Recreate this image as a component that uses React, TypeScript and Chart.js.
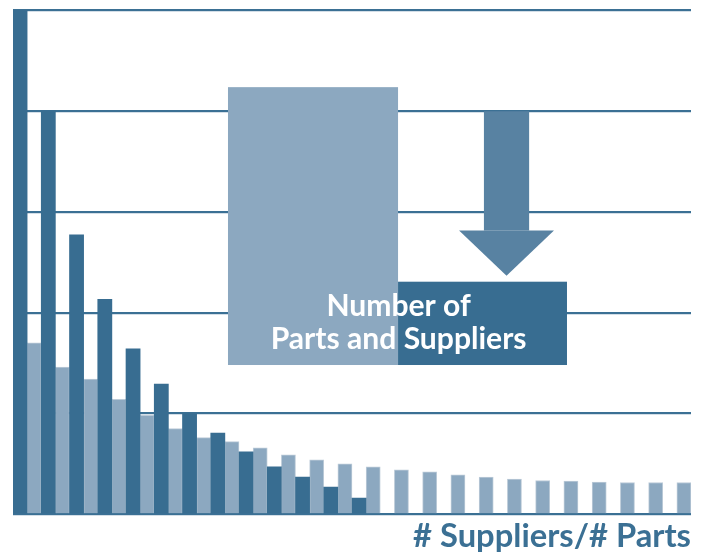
import React, { useEffect, useRef } from 'react';
import { Chart, registerables } from 'chart.js';

Chart.register(...registerables);

// ---- data ----
const categories = ['1', '2', '3', '4', '5', '6', '7', '8', '9', '10', '11', '12', '13', '14', '15', '16', '17', '18', '19', '20', '21', '22', '23', '24'];
const suppliers = [50, 40, 27.7, 21.3, 16.4, 12.9, 10.0, 8.05, 6.2, 4.7, 3.7, 2.7, 1.6, 0, 0, 0, 0, 0, 0, 0, 0, 0, 0, 0];
const parts = [17.0, 14.6, 13.4, 11.4, 9.8, 8.5, 7.6, 7.2, 6.6, 5.9, 5.4, 5.0, 4.7, 4.4, 4.2, 3.9, 3.7, 3.5, 3.35, 3.3, 3.2, 3.15, 3.15, 3.15];
const yTicks = [0, 10, 20, 30, 40, 50];
const xTitle = '# Suppliers/# Parts';
const badgeLines = ['Number of', 'Parts and Suppliers'];

// ---- styles ----
const DARK = '#386d91';
const LIGHT = '#8ca8c0';
const LIGHT_EDGE = '#bccbd8';
const ARROW = '#5882a2';
const GRID = '#3b7094';
const GRID_SHADOW = '#d3dee7';
const FONT = 'Lato, "Open Sans", sans-serif';

// decoration geometry in axis units (x: category index, y: value)
const badgeLight = { x0: 7.11, x1: 13.13, y0: 14.8, y1: 42.35 };
const badgeDark = { x0: 13.13, x1: 19.11, y0: 14.8, y1: 23.06 };
const arrowShaft = { x0: 16.17, x1: 17.77, yTop: 39.96, yBase: 28.13 };
const arrowHead = { x0: 15.29, x1: 18.65, yTip: 23.66 };
const badgeText = { xc: 13.15, yLine1: 19.68, yLine2: 16.4 };

function fitFontSize(text: string, weight: string, width: number): number {
  const c = document.createElement('canvas').getContext('2d')!;
  c.font = `${weight} 100px ${FONT}`;
  return (100 * width) / c.measureText(text).width;
}

const decorPlugin = {
  id: 'decor',
  beforeDatasetsDraw(chart: any) {
    const { ctx, chartArea, scales } = chart;
    ctx.save();
    ctx.strokeStyle = GRID_SHADOW;
    ctx.lineWidth = 1;
    yTicks.forEach((v) => {
      const py = Math.round(scales.y.getPixelForValue(v)) + 1.5;
      ctx.beginPath();
      ctx.moveTo(chartArea.left, py);
      ctx.lineTo(chartArea.right, py);
      ctx.stroke();
    });
    ctx.restore();
  },
  afterDatasetsDraw(chart: any) {
    const { ctx, scales } = chart;
    const X = (u: number) => scales.x.getPixelForValue(u);
    const Y = (v: number) => scales.y.getPixelForValue(v);
    ctx.save();
    // light panel
    ctx.fillStyle = LIGHT;
    ctx.fillRect(X(badgeLight.x0), Y(badgeLight.y1), X(badgeLight.x1) - X(badgeLight.x0), Y(badgeLight.y0) - Y(badgeLight.y1));
    // dark panel
    ctx.fillStyle = DARK;
    ctx.fillRect(X(badgeDark.x0), Y(badgeDark.y1), X(badgeDark.x1) - X(badgeDark.x0), Y(badgeDark.y0) - Y(badgeDark.y1));
    // arrow
    ctx.fillStyle = ARROW;
    ctx.fillRect(X(arrowShaft.x0), Y(arrowShaft.yTop), X(arrowShaft.x1) - X(arrowShaft.x0), Y(arrowShaft.yBase) - Y(arrowShaft.yTop));
    ctx.beginPath();
    ctx.moveTo(X(arrowHead.x0), Y(arrowShaft.yBase));
    ctx.lineTo(X(arrowHead.x1), Y(arrowShaft.yBase));
    ctx.lineTo(X((arrowShaft.x0 + arrowShaft.x1) / 2), Y(arrowHead.yTip));
    ctx.closePath();
    ctx.fill();
    // text
    const size = fitFontSize(badgeLines[1], 'bold', 256);
    ctx.font = `bold ${size}px ${FONT}`;
    ctx.fillStyle = '#ffffff';
    ctx.textAlign = 'center';
    ctx.textBaseline = 'alphabetic';
    ctx.fillText(badgeLines[0], X(badgeText.xc), Y(badgeText.yLine1));
    ctx.fillText(badgeLines[1], X(badgeText.xc), Y(badgeText.yLine2));
    ctx.restore();
  },
};

export default function App() {
  const ref = useRef<HTMLCanvasElement>(null);
  useEffect(() => {
    document.body.style.margin = '0';
    const titleSize = fitFontSize(xTitle, 'bold', 278);
    const chart = new Chart(ref.current!, {
      type: 'bar',
      data: {
        labels: categories,
        datasets: [
          {
            label: 'Suppliers',
            data: suppliers,
            backgroundColor: DARK,
            borderWidth: 0,
            categoryPercentage: 1,
            barPercentage: 1,
          },
          {
            label: 'Parts',
            data: parts,
            backgroundColor: LIGHT,
            borderColor: LIGHT_EDGE,
            borderWidth: { top: 1, left: 1, right: 1, bottom: 0 },
            borderSkipped: 'bottom',
            categoryPercentage: 1,
            barPercentage: 1,
          },
        ],
      },
      options: {
        responsive: false,
        animation: false,
        devicePixelRatio: 1,
        layout: { padding: { top: 10, left: 13, right: 12, bottom: 0 } },
        plugins: { legend: { display: false }, tooltip: { enabled: false } },
        scales: {
          x: {
            grid: { display: false, drawTicks: false },
            border: { display: false },
            ticks: { display: false },
            title: {
              display: true,
              text: xTitle,
              align: 'end',
              color: GRID,
              font: { family: FONT, weight: 'bold', size: titleSize, lineHeight: 1 },
              padding: { top: 6, bottom: 4 },
            },
          },
          y: {
            min: 0,
            max: 50,
            ticks: { display: false, stepSize: 10 },
            border: { display: false },
            grid: { color: GRID, lineWidth: 2, drawTicks: false },
          },
        },
      },
      plugins: [decorPlugin],
    });
    return () => chart.destroy();
  }, []);
  return (
    <div style={{ width: 703, height: 557 }}>
      <canvas ref={ref} width={703} height={557} />
    </div>
  );
}
